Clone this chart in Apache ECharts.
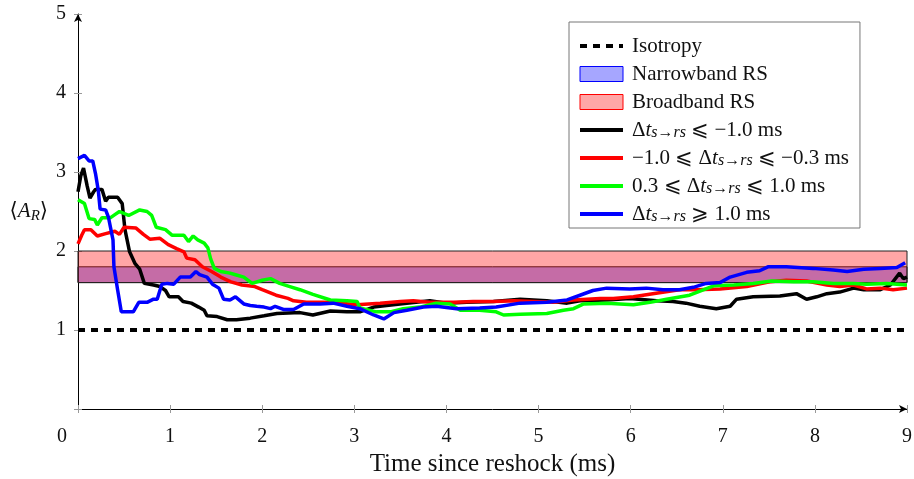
<!doctype html>
<html>
<head>
<meta charset="utf-8">
<title>Anisotropy after reshock</title>
<script src="https://cdn.jsdelivr.net/npm/echarts@6/dist/echarts.min.js"></script>
<style>
    html, body { margin: 0; padding: 0; background: #fff; }
    #main { width: 914px; height: 479px; }
</style>
</head>
<body>
<div id="main"></div>
<script>
// x: time since reshock (ms), y: <A_R>
var isotropy = [[0, 1], [9, 1]];
var narrowBand = [1.6, 1.8];
var broadBand = [1.6, 2.0];

var blackPts = [[0,2.75],[0.03,2.95],[0.06,3.05],[0.10,2.82],[0.13,2.67],[0.17,2.75],[0.19,2.78],[0.26,2.78],[0.30,2.63],[0.33,2.68],[0.43,2.68],[0.48,2.60],[0.51,2.27],[0.56,1.99],[0.62,1.84],[0.67,1.77],[0.72,1.59],[0.82,1.57],[0.89,1.55],[0.95,1.50],[0.99,1.42],[1.09,1.42],[1.14,1.36],[1.23,1.34],[1.31,1.29],[1.37,1.25],[1.40,1.18],[1.51,1.17],[1.62,1.13],[1.72,1.13],[1.87,1.15],[2.02,1.18],[2.16,1.21],[2.41,1.22],[2.55,1.19],[2.74,1.24],[2.92,1.23],[3.06,1.23],[3.21,1.29],[3.35,1.31],[3.57,1.34],[3.82,1.37],[4.00,1.34],[4.22,1.35],[4.51,1.36],[4.80,1.39],[5.09,1.37],[5.31,1.34],[5.45,1.37],[5.74,1.38],[5.99,1.40],[6.28,1.37],[6.46,1.36],[6.60,1.34],[6.75,1.30],[6.93,1.27],[7.08,1.30],[7.15,1.39],[7.33,1.42],[7.62,1.43],[7.80,1.46],[7.91,1.39],[8.02,1.42],[8.13,1.46],[8.27,1.48],[8.42,1.53],[8.53,1.51],[8.71,1.51],[8.82,1.57],[8.92,1.72],[8.96,1.65],[9.0,1.67]];
var redPts = [[0,2.09],[0.04,2.20],[0.07,2.27],[0.14,2.27],[0.21,2.19],[0.30,2.22],[0.40,2.25],[0.45,2.21],[0.50,2.30],[0.63,2.29],[0.71,2.21],[0.78,2.15],[0.89,2.16],[0.98,2.08],[1.07,2.03],[1.15,1.99],[1.18,1.91],[1.27,1.89],[1.35,1.80],[1.45,1.74],[1.55,1.67],[1.66,1.61],[1.78,1.57],[1.92,1.55],[2.00,1.51],[2.15,1.44],[2.28,1.40],[2.34,1.37],[2.48,1.35],[2.74,1.35],[3.03,1.32],[3.28,1.34],[3.50,1.36],[3.64,1.37],[3.82,1.35],[4.08,1.35],[4.29,1.36],[4.51,1.36],[4.73,1.37],[4.95,1.36],[5.16,1.35],[5.38,1.38],[5.67,1.40],[5.81,1.40],[6.03,1.42],[6.24,1.46],[6.53,1.51],[6.71,1.51],[6.97,1.52],[7.26,1.55],[7.51,1.61],[7.69,1.63],[7.91,1.62],[8.13,1.57],[8.27,1.55],[8.42,1.57],[8.56,1.52],[8.71,1.53],[8.85,1.51],[9.0,1.53]];
var greenPts = [[0,2.65],[0.07,2.60],[0.12,2.41],[0.18,2.40],[0.21,2.33],[0.26,2.42],[0.35,2.42],[0.40,2.46],[0.45,2.50],[0.55,2.45],[0.67,2.52],[0.75,2.50],[0.80,2.45],[0.85,2.30],[0.95,2.27],[1.02,2.20],[1.15,2.20],[1.20,2.12],[1.25,2.19],[1.30,2.14],[1.37,2.10],[1.41,2.04],[1.44,1.90],[1.48,1.78],[1.55,1.74],[1.65,1.72],[1.71,1.70],[1.80,1.67],[1.89,1.59],[2.00,1.63],[2.09,1.65],[2.19,1.59],[2.30,1.55],[2.41,1.51],[2.55,1.45],[2.74,1.38],[2.92,1.37],[3.03,1.36],[3.06,1.28],[3.24,1.23],[3.39,1.23],[3.53,1.27],[3.71,1.29],[3.89,1.34],[4.04,1.33],[4.15,1.25],[4.36,1.25],[4.54,1.23],[4.62,1.19],[4.80,1.20],[5.09,1.21],[5.27,1.25],[5.38,1.27],[5.49,1.33],[5.74,1.34],[6.03,1.32],[6.21,1.35],[6.39,1.39],[6.64,1.44],[6.90,1.56],[7.12,1.57],[7.33,1.59],[7.53,1.62],[7.77,1.61],[7.98,1.61],[8.20,1.59],[8.42,1.59],[8.56,1.58],[8.78,1.59],[9.0,1.57]];
var bluePts = [[0,3.17],[0.07,3.21],[0.12,3.14],[0.16,3.14],[0.19,2.98],[0.22,2.77],[0.24,2.53],[0.30,2.52],[0.33,2.43],[0.38,2.14],[0.39,1.80],[0.43,1.51],[0.47,1.23],[0.60,1.23],[0.66,1.35],[0.75,1.35],[0.82,1.39],[0.86,1.39],[0.91,1.58],[0.97,1.59],[1.04,1.58],[1.11,1.67],[1.22,1.67],[1.28,1.74],[1.32,1.70],[1.40,1.67],[1.46,1.58],[1.53,1.53],[1.58,1.39],[1.65,1.38],[1.71,1.42],[1.80,1.33],[1.87,1.31],[1.94,1.30],[2.02,1.29],[2.09,1.27],[2.14,1.30],[2.23,1.26],[2.34,1.26],[2.45,1.33],[2.63,1.33],[2.77,1.34],[2.92,1.30],[3.06,1.27],[3.21,1.19],[3.32,1.14],[3.43,1.22],[3.57,1.25],[3.75,1.29],[3.89,1.30],[4.11,1.27],[4.36,1.28],[4.54,1.29],[4.80,1.34],[5.09,1.35],[5.31,1.38],[5.45,1.44],[5.59,1.50],[5.74,1.53],[5.99,1.52],[6.17,1.53],[6.35,1.51],[6.53,1.51],[6.68,1.54],[6.82,1.59],[6.97,1.60],[7.08,1.67],[7.26,1.73],[7.40,1.75],[7.49,1.80],[7.69,1.80],[7.98,1.78],[8.20,1.76],[8.35,1.74],[8.53,1.77],[8.71,1.78],[8.89,1.79],[8.98,1.85]];

// legend labels as rich text (t italic, s->rs subscript)
var legendText = {
    'Isotropy': '{n|Isotropy}',
    'Narrowband RS': '{n|Narrowband RS}',
    'Broadband RS': '{n|Broadband RS}',
    'dt1': '{n|Δ}{i|t}{s|s→rs}{n| ⩽ −1.0 ms}',
    'dt2': '{n|−1.0 ⩽ Δ}{i|t}{s|s→rs}{n| ⩽ −0.3 ms}',
    'dt3': '{n|0.3 ⩽ Δ}{i|t}{s|s→rs}{n| ⩽ 1.0 ms}',
    'dt4': '{n|Δ}{i|t}{s|s→rs}{n| ⩾ 1.0 ms}'
};

var FONT = "'Liberation Serif', 'DejaVu Serif', serif";
var rich = {
    n: { fontFamily: FONT, fontSize: 21, lineHeight: 22, color: '#111' },
    i: { fontFamily: FONT, fontSize: 21, lineHeight: 22, fontStyle: 'italic', color: '#111' },
    s: { fontFamily: FONT, fontSize: 16, lineHeight: 12, fontStyle: 'italic', color: '#111', padding: [6, 0, 0, 0], verticalAlign: 'bottom' }
};

function band(range) {
    return [[{ xAxis: 0, yAxis: range[0] }, { xAxis: 9, yAxis: range[1] }]];
}

function curve(name, color, pts) {
    return {
        name: name, type: 'line', data: pts, showSymbol: false, symbol: 'none',
        z: 3, silent: true,
        lineStyle: { color: color, width: 3.5 },
        itemStyle: { color: color }
    };
}

// line entries: hide the legend marker, keep the line
function lineItem(name) {
    return { name: name, itemStyle: { opacity: 0 }, lineStyle: { width: 4 } };
}

var myChart = echarts.init(document.getElementById('main'));
var option = {
    animation: false,
    backgroundColor: '#fff',
    grid: { left: 78, right: 7, top: 14, bottom: 70, outerBoundsMode: 'none' },
    legend: {
        orient: 'vertical',
        left: 569, top: 22,
        padding: [13, 11, 3, 9],
        itemWidth: 43, itemHeight: 15, itemGap: 6,
        borderColor: '#777', borderWidth: 1,
        backgroundColor: '#fff',
        selectedMode: false,
        data: [
            lineItem('Isotropy'),
            { name: 'Narrowband RS', icon: 'rect', itemStyle: { color: 'rgba(0,0,255,0.35)', borderColor: '#0000ff', borderWidth: 1 } },
            { name: 'Broadband RS', icon: 'rect', itemStyle: { color: 'rgba(255,0,0,0.35)', borderColor: '#ff0000', borderWidth: 1 } },
            lineItem('dt1'), lineItem('dt2'), lineItem('dt3'), lineItem('dt4')
        ],
        formatter: function (name) { return legendText[name]; },
        textStyle: { fontFamily: FONT, fontSize: 21, lineHeight: 22, padding: [0, 0, 0, 4], rich: rich }
    },
    xAxis: [{
        type: 'value', min: 0, max: 9, interval: 1,
        splitLine: { show: false },
        axisLine: { onZero: false, symbol: ['none', 'arrow'], symbolSize: [6, 8], lineStyle: { color: '#000', width: 1 } },
        axisTick: { length: 4, lineStyle: { color: '#999' } },
        axisLabel: {
            margin: 18, fontFamily: FONT, fontSize: 20, color: '#111',
            formatter: function (v) { return v === 0 ? '{z|0}' : String(v); },
            rich: { z: { fontFamily: FONT, fontSize: 20, color: '#111', padding: [0, 32, 0, 0] } }
        },
        name: 'Time since reshock (ms)', nameLocation: 'middle', nameGap: 41,
        nameTextStyle: { fontFamily: FONT, fontSize: 25, color: '#111' }
    }, {
        type: 'value', min: 0, max: 9, interval: 1, position: 'bottom',
        splitLine: { show: false }, axisLine: { show: false }, axisLabel: { show: false },
        axisTick: { inside: true, length: 4, lineStyle: { color: '#999' } }
    }],
    yAxis: [{
        type: 'value', min: 0, max: 5, interval: 1,
        splitLine: { show: false },
        axisLine: { onZero: false, symbol: ['none', 'arrow'], symbolSize: [6, 8], lineStyle: { color: '#000', width: 1 } },
        axisTick: { length: 4, lineStyle: { color: '#999' } },
        axisLabel: {
            margin: 12, fontFamily: FONT, fontSize: 20, color: '#111',
            formatter: function (v) { return v === 0 ? '' : String(v); }
        },
        name: '{a|⟨}{i|A}{s|R}{a|⟩}', nameLocation: 'middle', nameRotate: 0, nameGap: 30,
        nameTextStyle: {
            rich: {
                a: { fontFamily: FONT, fontSize: 21, lineHeight: 22, color: '#111' },
                i: { fontFamily: FONT, fontSize: 21, lineHeight: 22, fontStyle: 'italic', color: '#111' },
                s: { fontFamily: FONT, fontSize: 15, lineHeight: 13, fontStyle: 'italic', color: '#111', padding: [9, 0, 0, 0] }
            }
        }
    }, {
        type: 'value', min: 0, max: 5, interval: 1, position: 'left',
        splitLine: { show: false }, axisLine: { show: false }, axisLabel: { show: false },
        axisTick: { inside: true, length: 4, lineStyle: { color: '#999' } }
    }],
    series: [
        {
            name: 'Isotropy', type: 'line', data: isotropy, showSymbol: false, symbol: 'none', z: 3,
            lineStyle: { color: '#000', width: 4, type: [7, 6] }, itemStyle: { color: '#000' }
        },
        {
            name: 'Narrowband RS', type: 'line', data: [], z: 1,
            itemStyle: { color: 'rgba(0,0,255,0.35)' },
            markArea: { silent: true, itemStyle: { color: 'rgba(0,0,255,0.35)', borderColor: '#222', borderWidth: 1 }, data: band(narrowBand) }
        },
        {
            name: 'Broadband RS', type: 'line', data: [], z: 1,
            itemStyle: { color: 'rgba(255,0,0,0.35)' },
            markArea: { silent: true, itemStyle: { color: 'rgba(255,0,0,0.35)', borderColor: '#222', borderWidth: 1 }, data: band(broadBand) }
        },
        curve('dt1', '#000000', blackPts),
        curve('dt2', '#ff0000', redPts),
        curve('dt3', '#00ff00', greenPts),
        curve('dt4', '#0000ff', bluePts)
    ]
};
myChart.setOption(option);
</script>
</body>
</html>
